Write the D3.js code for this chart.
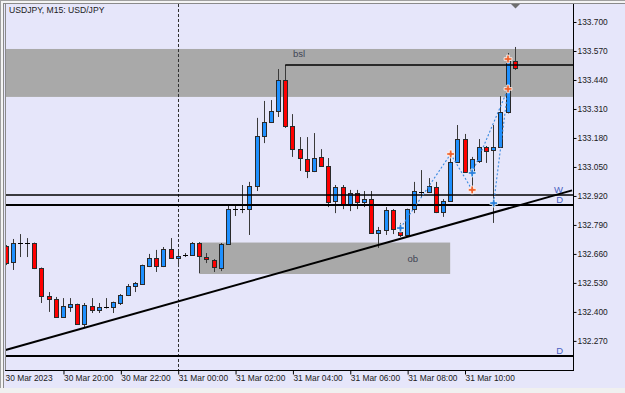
<!DOCTYPE html>
<html><head><meta charset="utf-8">
<script src="https://cdn.jsdelivr.net/npm/d3@7"></script>
<style>
html,body{margin:0;padding:0;background:#f0f0f0;}
svg{display:block;}
text{font-family:"Liberation Sans",Arial,sans-serif;}
</style></head><body>
<svg id="c" width="625" height="393"></svg>
<script>
// ---------- DATA ----------
const chartTitle = "USDJPY, M15:  USD/JPY";
const firstBarTime = Date.UTC(2023, 2, 30, 18, 0); // 30 Mar 2023 18:00, M15 bars
const barMinutes = 15;

const open = [132.696,132.624,132.709,132.708,132.709,132.597,132.471,132.458,132.377,132.422,132.435,132.346,
  132.426,132.409,132.420,132.422,132.440,132.476,132.516,132.525,132.606,132.642,132.606,132.682,
  132.642,132.652,132.655,132.709,132.646,132.633,132.597,132.704,132.861,132.860,132.861,132.965,
  133.189,133.252,133.301,133.440,133.234,133.130,133.086,133.032,133.095,133.054,132.897,132.960,
  132.879,132.933,132.893,132.906,132.754,132.767,132.857,132.758,132.745,132.861,132.938,132.938,
  132.960,132.848,132.897,133.072,133.175,133.027,133.077,133.139,133.126,133.139,133.296,133.525];
const high = [132.700,132.727,132.749,132.731,132.711,132.599,132.489,132.467,132.462,132.462,132.437,132.440,
  132.462,132.440,132.462,132.446,132.480,132.525,132.534,132.612,132.660,132.678,132.691,132.731,
  132.678,132.664,132.713,132.713,132.664,132.637,132.709,132.875,132.875,132.969,132.983,133.270,
  133.346,133.350,133.489,133.507,133.287,133.184,133.184,133.202,133.130,133.090,132.969,132.969,
  132.947,132.947,132.942,132.942,132.781,132.870,132.861,132.799,132.863,132.983,133.036,133.000,
  132.983,132.906,133.113,133.238,133.198,133.095,133.175,133.144,133.238,133.368,133.561,133.588];
const low = [132.610,132.588,132.646,132.646,132.592,132.440,132.400,132.373,132.373,132.400,132.344,132.332,
  132.395,132.395,132.415,132.395,132.431,132.471,132.489,132.521,132.601,132.579,132.601,132.640,
  132.601,132.646,132.651,132.574,132.619,132.579,132.583,132.700,132.830,132.843,132.745,132.942,
  133.157,133.247,133.274,133.225,133.095,133.032,133.000,133.027,133.050,132.870,132.843,132.861,
  132.852,132.861,132.870,132.750,132.687,132.745,132.749,132.736,132.740,132.843,132.915,132.933,
  132.843,132.826,132.893,133.068,133.023,132.933,133.068,133.068,132.799,133.135,133.290,133.485];
const close = [132.619,132.709,132.708,132.707,132.597,132.471,132.458,132.377,132.426,132.435,132.346,132.431,
  132.409,132.422,132.421,132.444,132.476,132.516,132.530,132.610,132.642,132.606,132.682,132.642,
  132.651,132.655,132.709,132.651,132.637,132.601,132.704,132.861,132.860,132.861,132.965,133.189,
  133.252,133.301,133.440,133.234,133.130,133.090,133.032,133.090,133.054,132.893,132.960,132.884,
  132.933,132.893,132.906,132.754,132.767,132.857,132.772,132.745,132.861,132.942,132.937,132.965,
  132.848,132.897,133.072,133.175,133.027,133.086,133.139,133.122,133.139,133.296,133.525,133.494];

const priceTicks = [133.700,133.570,133.440,133.310,133.180,133.050,132.920,132.790,132.660,132.530,132.400,132.270];
const timeTickValues = ["2023-03-30T18:00Z","2023-03-30T20:00Z","2023-03-30T22:00Z","2023-03-31T00:00Z",
  "2023-03-31T02:00Z","2023-03-31T04:00Z","2023-03-31T06:00Z","2023-03-31T08:00Z","2023-03-31T10:00Z"];
const timeTickLabels = ["30 Mar 2023","30 Mar 20:00","30 Mar 22:00","31 Mar 00:00","31 Mar 02:00",
  "31 Mar 04:00","31 Mar 06:00","31 Mar 08:00","31 Mar 10:00"];
const separatorTime = "2023-03-31T00:00Z";

const bslZone = [133.364, 133.579];
const bslLevel = 133.507, bslStartBar = 39;
const obZone = [132.570, 132.711], obBars = [27, 62];
const hLevels = [ {p:132.924, label:"W", w:1.5}, {p:132.879, label:"D", w:2}, {p:132.202, label:"D", w:2} ];
const trendBars = [0, 79], trendPrices = [132.229, 132.945];
const upMarks = [ {bar:62, p:133.108}, {bar:65, p:132.947}, {bar:70, p:133.534}, {bar:70, p:133.400} ];
const downMarks = [ {bar:55, p:132.776}, {bar:65, p:133.023}, {bar:68, p:132.888} ];
const zigzag = [ [[55,132.776],[62,133.108]], [[62,133.108],[65,132.947]], [[65,133.023],[70,133.400]], [[68,132.888],[70,133.400]] ];

// ---------- LAYOUT ----------
const W = 625, H = 393;
const plot = {l:5, t:4, r:573, b:370};
const tAt = k => new Date(firstBarTime + k*barMinutes*60000);
const x = d3.scaleUtc().domain([tAt(0), tAt(open.length-1)]).range([5.62, 514.69]);
const y = d3.scaleLinear().domain([132.1395, 133.7807]).range([plot.b, plot.t]);
const xb = k => x(tAt(k));

const svg = d3.select("#c");
svg.append("rect").attr("width",W).attr("height",H).attr("fill","#f0f0f0");
svg.append("rect").attr("x",0).attr("y",0).attr("width",W).attr("height",388).attr("fill","#e6e6fa");
// window frame
svg.append("rect").attr("x",0).attr("y",0).attr("width",W).attr("height",1).attr("fill","#a0a0a0");
svg.append("rect").attr("x",0).attr("y",1).attr("width",W).attr("height",2).attr("fill","#f4f4f4");
svg.append("rect").attr("x",0).attr("y",3).attr("width",W).attr("height",1).attr("fill","#8a8a8a");
svg.append("rect").attr("x",0).attr("y",0).attr("width",1).attr("height",388).attr("fill","#a0a0a0");
svg.append("rect").attr("x",1).attr("y",1).attr("width",2).attr("height",387).attr("fill","#f4f4f4");
svg.append("rect").attr("x",3).attr("y",3).attr("width",1).attr("height",385).attr("fill","#8a8a8a");

svg.append("defs").append("clipPath").attr("id","pc").append("rect")
  .attr("x",plot.l).attr("y",plot.t).attr("width",plot.r-plot.l).attr("height",plot.b-plot.t);
const g = svg.append("g").attr("clip-path","url(#pc)");

// zones
g.append("rect").attr("x",plot.l).attr("width",plot.r-plot.l)
  .attr("y",y(bslZone[1])).attr("height",y(bslZone[0])-y(bslZone[1])).attr("fill","#a9a9a9");
g.append("rect").attr("x",xb(obBars[0])).attr("width",xb(obBars[1])-xb(obBars[0]))
  .attr("y",y(obZone[1])).attr("height",y(obZone[0])-y(obZone[1])).attr("fill","#a9a9a9");
g.append("text").attr("x",299).attr("y",y(bslZone[1])+8.5).attr("text-anchor","middle")
  .attr("font-size",9.5).attr("fill","#404454").text("bsl");
g.append("text").attr("x",(xb(obBars[0])+xb(obBars[1]))/2+88).attr("y",(y(obZone[0])+y(obZone[1]))/2+4)
  .attr("text-anchor","middle").attr("font-size",9.5).attr("fill","#404454").text("ob");

// separator
g.append("line").attr("x1",Math.round(x(new Date(separatorTime)))+0.5).attr("x2",Math.round(x(new Date(separatorTime)))+0.5)
  .attr("y1",plot.t).attr("y2",plot.b).attr("stroke","#303030").attr("stroke-dasharray","3,2");

// candles
const cg = g.append("g");
open.forEach((o,k)=>{
  const c = close[k], cx = Math.round(xb(k));
  const yo = y(o), yc = y(c);
  cg.append("line").attr("x1",cx+0.5).attr("x2",cx+0.5).attr("y1",y(high[k])).attr("y2",y(low[k]))
    .attr("stroke","#3a3a3a").attr("stroke-width",1);
  if (Math.abs(yo-yc) < 1.5) {
    const yy = Math.round(yc)+0.5;
    cg.append("line").attr("x1",cx-2).attr("x2",cx+3).attr("y1",yy).attr("y2",yy).attr("stroke","#000");
  } else {
    const top = Math.round(Math.min(yo,yc))+0.5, bot = Math.round(Math.max(yo,yc))+0.5;
    cg.append("rect").attr("x",cx-1.5).attr("width",4).attr("y",top).attr("height",bot-top)
      .attr("fill", c>o ? "#1e90ff" : "#ff0000").attr("stroke","#2a2a2a").attr("stroke-width",1);
  }
});

// horizontal levels
g.append("line").attr("x1",xb(bslStartBar)).attr("x2",plot.r).attr("y1",y(bslLevel)).attr("y2",y(bslLevel))
  .attr("stroke","#000").attr("stroke-width",1.5);
hLevels.forEach(h=>{
  g.append("line").attr("x1",plot.l).attr("x2",plot.r).attr("y1",y(h.p)).attr("y2",y(h.p))
    .attr("stroke","#000").attr("stroke-width",h.w);
});
// trendline
g.append("line").attr("x1",xb(trendBars[0])).attr("y1",y(trendPrices[0]))
  .attr("x2",xb(trendBars[1])).attr("y2",y(trendPrices[1])).attr("stroke","#000").attr("stroke-width",2);

hLevels.forEach(h=>{
  g.append("text").attr("x",563).attr("y",y(h.p)-2.5).attr("text-anchor","end")
    .attr("font-size",9.5).attr("fill","#4a5fc1").text(h.label);
});

// zigzag dotted
zigzag.forEach(s=>{
  g.append("line").attr("x1",xb(s[0][0])+0.5).attr("y1",y(s[0][1])).attr("x2",xb(s[1][0])+0.5).attr("y2",y(s[1][1]))
    .attr("stroke","#3a8ae0").attr("stroke-width",1.1).attr("stroke-dasharray","2,2");
});
const sym = d3.symbol().type(d3.symbolCross).size(34);
upMarks.forEach(m=>{
  g.append("path").attr("d",sym()).attr("transform",`translate(${xb(m.bar)+0.5},${y(m.p)})`)
    .attr("fill","#f0602a").attr("stroke","#ffffff").attr("stroke-width",0.8);
});
downMarks.forEach(m=>{
  g.append("path").attr("d",sym()).attr("transform",`translate(${xb(m.bar)+0.5},${y(m.p)})`)
    .attr("fill","#2a80dc").attr("stroke","#ffffff").attr("stroke-width",0.8);
});

// plot border
svg.append("line").attr("x1",5.5).attr("x2",5.5).attr("y1",plot.t).attr("y2",plot.b).attr("stroke","#8a8a8a");
svg.append("line").attr("x1",plot.r+0.5).attr("x2",plot.r+0.5).attr("y1",plot.t).attr("y2",plot.b+0.5).attr("stroke","#000");
svg.append("line").attr("x1",5).attr("x2",plot.r+1).attr("y1",plot.b+0.5).attr("y2",plot.b+0.5).attr("stroke","#000");

// chart shift marker
const sx = Math.round(xb(open.length-1))+0.5;
svg.append("path").attr("d",`M${sx-4.5},4 L${sx+4.5},4 L${sx},8.5 Z`).attr("fill","#6e6e6e");

// title
svg.append("text").attr("x",9).attr("y",13).attr("font-size",8.6).attr("fill","#1a1a1a").text(chartTitle);

// price axis
const ya = d3.axisRight(y).tickValues(priceTicks).tickFormat(d3.format(".3f")).tickSize(3).tickPadding(1);
const yag = svg.append("g").attr("transform",`translate(${plot.r+0.5},0)`).call(ya);
yag.select(".domain").remove();
yag.selectAll("line").attr("stroke","#000");
yag.selectAll("text").attr("font-size",8.4).attr("fill","#1a1a1a").attr("font-family","Liberation Sans, Arial, sans-serif");

// time axis
const tvals = timeTickValues.map(s=>new Date(s));
const xa = d3.axisBottom(x).tickValues(tvals).tickFormat((d,i)=>timeTickLabels[i]).tickSize(4).tickPadding(1);
const xag = svg.append("g").attr("transform",`translate(0,${plot.b+0.5})`).call(xa);
xag.select(".domain").remove();
xag.selectAll("line").attr("stroke","#000").attr("transform","translate(0.5,0)");
xag.selectAll("text").attr("text-anchor","start").attr("dx",0.5).attr("font-size",8.4)
  .attr("fill","#1a1a1a").attr("font-family","Liberation Sans, Arial, sans-serif");
xag.selectAll(".tick").filter((d,i)=>i===0).select("line").remove();
xag.selectAll(".tick").filter((d,i)=>i===0).select("text").attr("dx",-0.6);
</script>
</body></html>
